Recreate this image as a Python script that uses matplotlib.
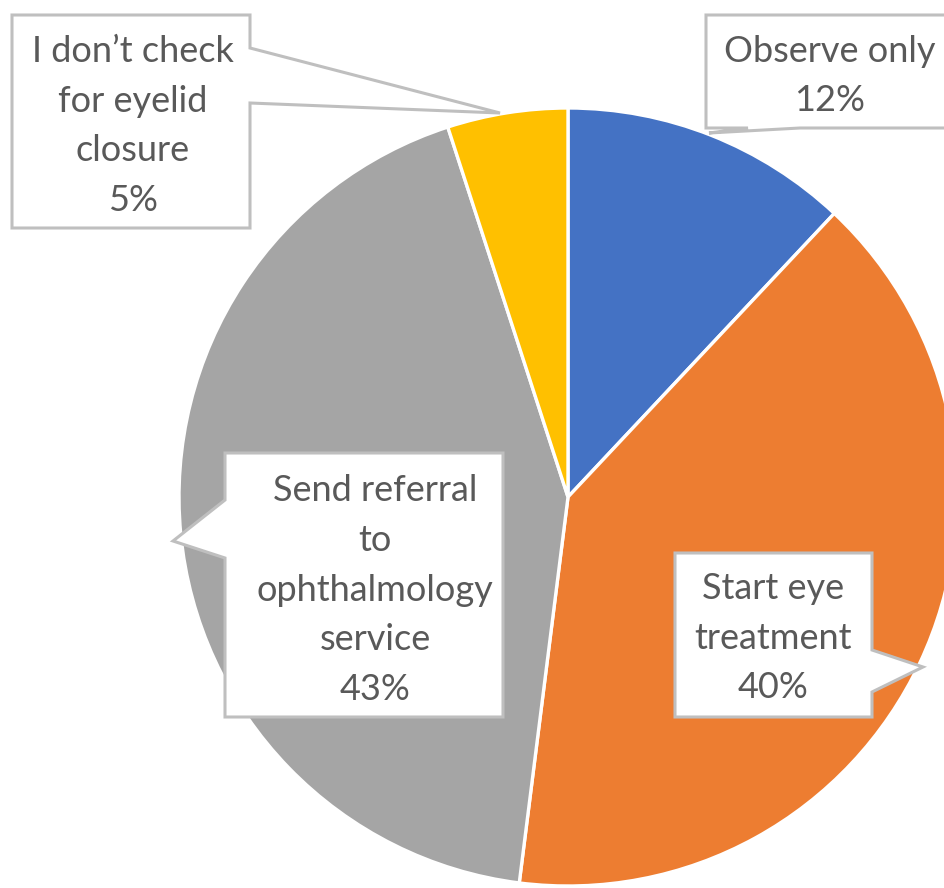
import matplotlib.pyplot as plt
from matplotlib.patches import Polygon

# slice data, clockwise from 12 o'clock
labels = ["Observe only", "Start eye\ntreatment", "Send referral\nto\nophthalmology\nservice",
          "I don\u2019t check\nfor eyelid\nclosure"]
shares = [12, 40, 43, 5]
colors = ["#4472C4", "#ED7D31", "#A5A5A5", "#FFC000"]

W, H = 944, 888
fig = plt.figure(figsize=(W / 100, H / 100), dpi=100)
ax = fig.add_axes([0, 0, 1, 1])

# with y inverted, counterclock in data space is clockwise on screen
ax.pie(shares, colors=colors, startangle=-90, counterclock=True,
       center=(568, 497), radius=389, frame=True,
       wedgeprops=dict(edgecolor="white", linewidth=2.4))
ax.set_xlim(0, W)
ax.set_ylim(H, 0)  # pixel coordinates, y downward
ax.set_aspect("equal")
ax.axis("off")

# callout outlines (pixel layout)
callouts = [
    # observe only: box clipped at right edge, pointer down-left
    [(706, 15), (960, 15), (960, 128), (800, 128), (709, 133), (748, 128), (706, 128)],
    # start eye treatment: pointer on right edge
    [(675, 553), (872, 553), (872, 650), (923, 667), (872, 692), (872, 717), (675, 717)],
    # send referral: pointer on left edge
    [(225, 453), (503, 453), (503, 717), (225, 717), (225, 558), (173, 541), (225, 500)],
    # don't check: pointer on right edge
    [(12, 15), (250, 15), (250, 48), (500, 113), (250, 103), (250, 228), (12, 228)],
]
text_pos = [(830, 76), (773, 638), (375, 590), (133, 126)]

for shape, (tx, ty), name, share in zip(callouts, text_pos, labels, shares):
    ax.add_patch(Polygon(shape, closed=True, facecolor="white",
                         edgecolor="#BFBFBF", linewidth=2.2, zorder=5))
    ax.text(tx, ty, f"{name}\n{share}%", ha="center", va="center",
            fontsize=26, color="#595959", family="Lato",
            linespacing=1.62, zorder=6)

fig.savefig("out.png", dpi=100)
